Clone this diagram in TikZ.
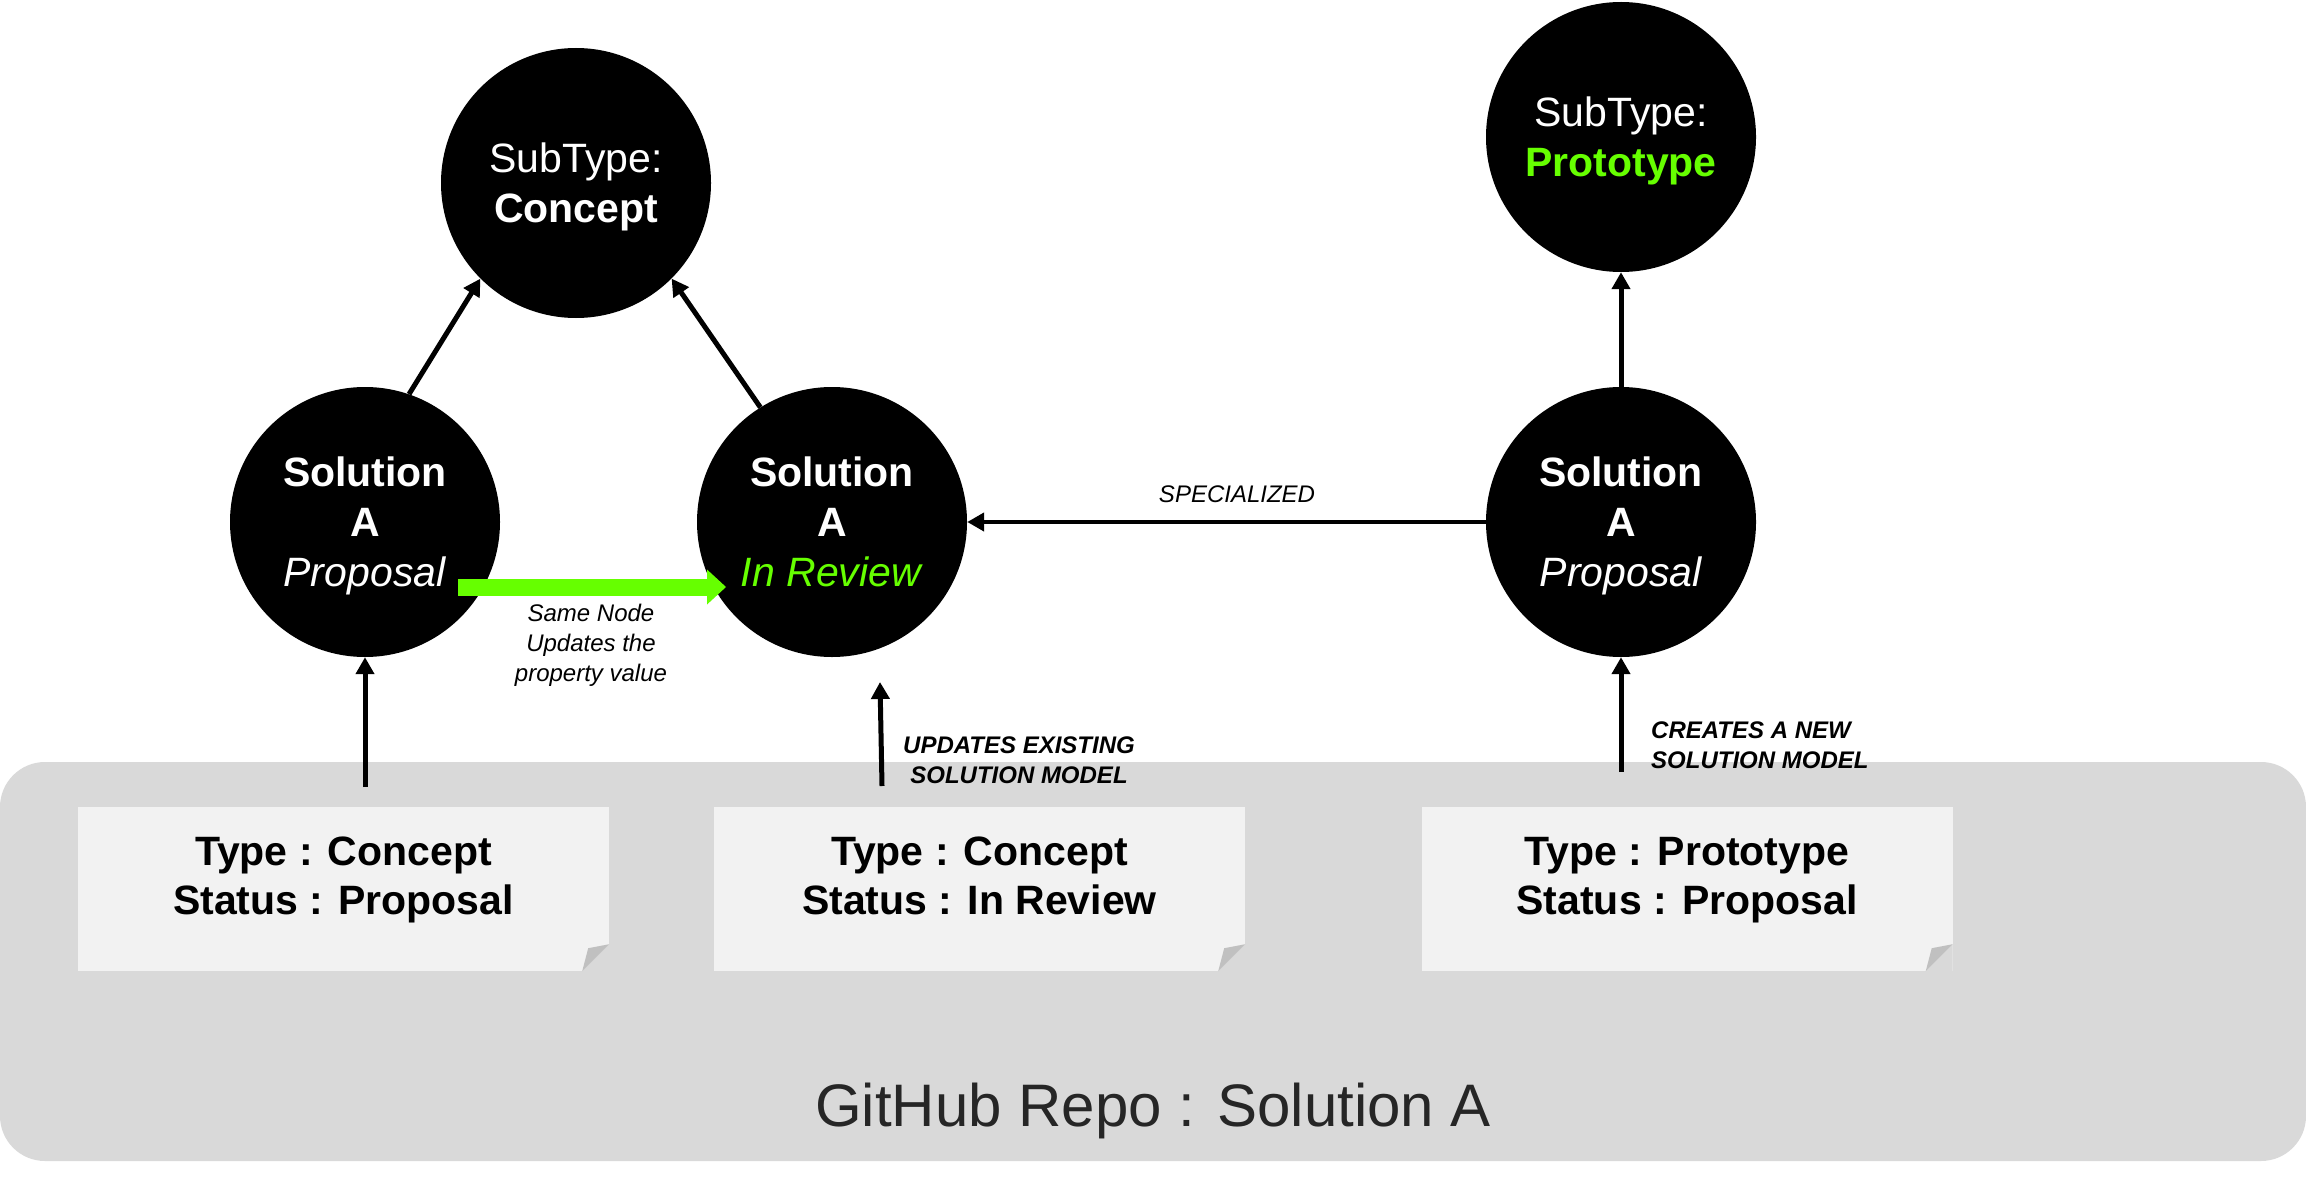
\documentclass[tikz,border=0pt]{standalone}
\usepackage{fontspec}
\setmainfont{Liberation Sans}
\usetikzlibrary{arrows.meta}
\definecolor{bggray}{HTML}{D9D9D9}
\definecolor{notefill}{HTML}{F2F2F2}
\definecolor{foldgray}{HTML}{C0C0C0}
\definecolor{brightgreen}{HTML}{66FF00}
\definecolor{titletext}{HTML}{262626}
\newcommand{\zerodp}[1]{\raisebox{0pt}[\height][0pt]{#1}}
\begin{document}
\begin{tikzpicture}[x=1pt,y=-1pt,
  gnode/.style={circle, fill=black, minimum size=270pt, inner sep=0pt, text=white, align=center, font=\fontsize{41}{50}\selectfont},
  notebox/.style={fill=notefill, minimum width=531pt, minimum height=164pt, inner sep=0pt},
  notetext/.style={align=center, inner sep=0pt, font=\fontsize{41}{49}\selectfont\bfseries},
  arr/.style={line width=5pt, -{Triangle[length=17pt,width=18pt]}},
  smalllbl/.style={inner sep=0pt, font=\fontsize{24}{30}\selectfont\itshape},
  smallbold/.style={inner sep=0pt, font=\fontsize{24}{30}\selectfont\bfseries\itshape}
]
\useasboundingbox (0,0) rectangle (2306,1177);
% repository background
\fill[bggray, rounded corners=45pt] (0,762) rectangle (2306,1161);
\node[font=\fontsize{60}{72}\selectfont, text=titletext, anchor=base, inner sep=0pt] (repo) at (1153,1126) {GitHub Repo : Solution A};

% notes
\node[notebox] (n1) at (343.5,889) {};
\node[notebox] (n2) at (979.5,889) {};
\node[notebox] (n3) at (1687,889) {};
\foreach \n in {n1,n2,n3}{
  \fill[bggray] (\n.south east) -- ([yshift=27pt]\n.south east) -- ([xshift=-27pt]\n.south east) -- cycle;
  \fill[foldgray] ([yshift=27pt]\n.south east) -- ([xshift=-21pt,yshift=23pt]\n.south east) -- ([xshift=-27pt]\n.south east) -- cycle;
}
\node[notetext] (t1) at (343.5,876) {Type : Concept\\\zerodp{Status : Proposal}};
\node[notetext] (t2) at (979.5,876) {Type : Concept\\\zerodp{Status : In Review}};
\node[notetext] (t3) at (1687,876) {Type : Prototype\\\zerodp{Status : Proposal}};

% graph nodes
\node[gnode] (con) at (576,183) {SubType:\\\zerodp{\textbf{Concept}}};
\node[gnode] (proto) at (1621,137) {SubType:\\\zerodp{\textcolor{brightgreen}{\textbf{Prototype}}}};
\node[gnode] (ls) at (365,522) {\textbf{Solution}\\\textbf{A}\\\zerodp{\textit{Proposal}}};
\node[gnode] (mid) at (832,522) {\textbf{Solution}\\\textbf{A}\\\zerodp{\textcolor{brightgreen}{\textit{In Review}}}};
\node[gnode] (rs) at (1621,522) {\textbf{Solution}\\\textbf{A}\\\zerodp{\textit{Proposal}}};

% connectors
\draw[arr] (ls.71) -- (con.225);
\draw[arr] (mid.122) -- (con.315);
\draw[arr] (rs.north) -- (proto.south);
\draw[arr, line width=4.5pt] (rs.west) -- (mid.east);
\coordinate (a1) at (365,787);
\draw[arr] (a1) -- (ls.south);
\coordinate (a2s) at (882,786);
\coordinate (a2e) at (880,682);
\draw[arr] (a2s) -- (a2e);
\coordinate (a3) at (1621,772);
\draw[arr] (a3) -- (rs.south);

% green update arrow
\coordinate (gs) at (458,587);
\coordinate (ge) at (726,587);
\draw[brightgreen, line width=17pt, -{Triangle[length=19pt,width=35pt,line width=0pt]}] (gs) -- (ge);

% labels
\node[smalllbl] (lblspec) at (1237,494) {SPECIALIZED};
\node[smalllbl, align=center] (lblsame) at (591,645) {Same Node\\Updates the\\property value};
\node[smallbold, align=center] (lblupd) at (1019,760) {UPDATES EXISTING\\SOLUTION MODEL};
\node[smallbold, align=left, anchor=west] (lblcre) at (1651,745) {CREATES A NEW\\SOLUTION MODEL};
\end{tikzpicture}
\end{document}
